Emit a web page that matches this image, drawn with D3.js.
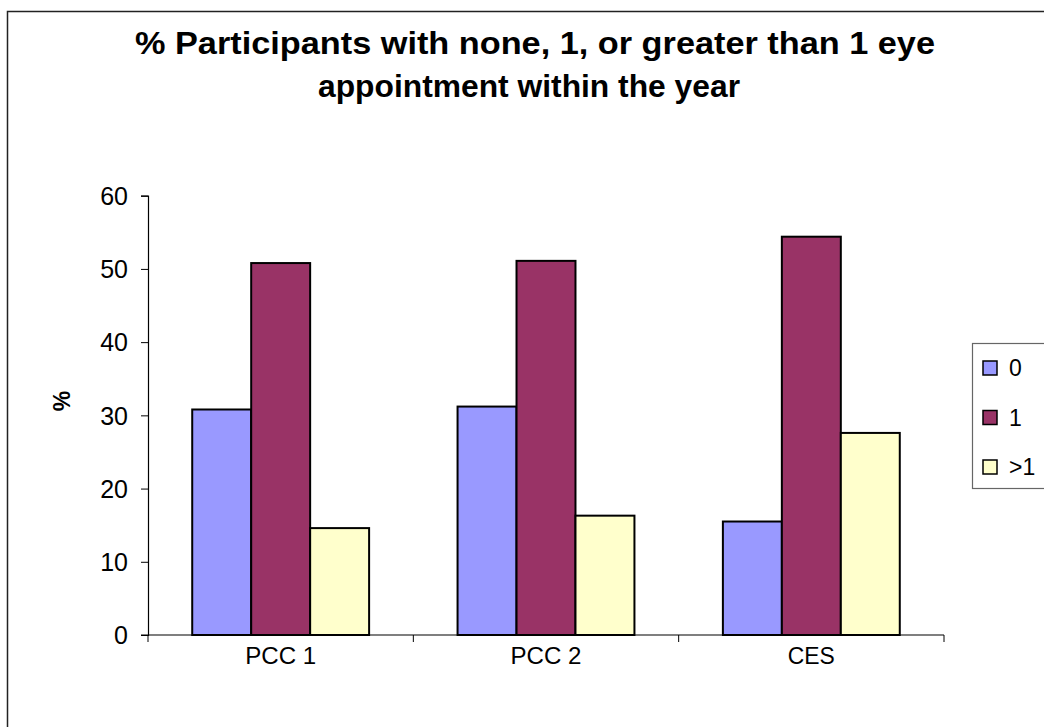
<!DOCTYPE html>
<html>
<head>
    <style>
        body { margin: 0; background: #fff; }
        svg text { font-family: "Liberation Sans", Arial, sans-serif; fill: #000; }
        .title { font-weight: bold; font-size: 32px; text-anchor: middle; }
        .tick text { font-size: 25px; }
    </style>
    <script src="https://d3js.org/d3.v7.min.js"></script>
</head>
<body>
    <svg width="1044" height="727"></svg>
    <script>
        var categories = ["PCC 1", "PCC 2", "CES"];
        var seriesNames = ["0", "1", ">1"];
        var zeroVisits = [30.8, 31.2, 15.5];
        var oneVisit = [50.8, 51.1, 54.4];
        var moreVisits = [14.6, 16.3, 27.6];
        var yTicks = [0, 10, 20, 30, 40, 50, 60];
        var colors = ["#9999ff", "#993366", "#ffffcc"];

        var series = [zeroVisits, oneVisit, moreVisits];

        var svg = d3.select("svg");

        // outer chart border (runs off the right/bottom edge)
        svg.append("rect")
           .attr("x", 7.5).attr("y", 11.5)
           .attr("width", 1100).attr("height", 800)
           .attr("fill", "none").attr("stroke", "#222").attr("stroke-width", 1.5);

        svg.append("text").attr("class", "title")
           .attr("x", 535).attr("y", 54)
           .attr("textLength", 800).attr("lengthAdjust", "spacingAndGlyphs")
           .text("% Participants with none, 1, or greater than 1 eye");
        svg.append("text").attr("class", "title")
           .attr("x", 529).attr("y", 97)
           .attr("textLength", 422).attr("lengthAdjust", "spacingAndGlyphs")
           .text("appointment within the year");

        var plotLeft = 148, plotRight = 944, plotTop = 195.7, plotBottom = 635;

        var x = d3.scaleBand().domain(categories).range([plotLeft, plotRight]).paddingInner(0).paddingOuter(0);
        var x1 = d3.scaleBand().domain(seriesNames).range([0, x.bandwidth() / 1.5]);
        var y = d3.scaleLinear().domain([0, 60]).range([plotBottom, plotTop]);

        var groupOffset = (x.bandwidth() - x1.range()[1]) / 2;

        series.forEach(function(vals, si) {
            svg.append("g").selectAll("rect")
               .data(vals)
               .enter().append("rect")
               .attr("x", function(d, i) { return x(categories[i]) + groupOffset + x1(seriesNames[si]); })
               .attr("y", function(d) { return y(d); })
               .attr("width", x1.bandwidth())
               .attr("height", function(d) { return y(0) - y(d); })
               .attr("fill", colors[si])
               .attr("stroke", "#000")
               .attr("stroke-width", 2);
        });

        // y axis
        var yAxis = svg.append("g")
           .attr("transform", "translate(" + plotLeft + ",0)")
           .call(d3.axisLeft(y).tickValues(yTicks).tickSize(7).tickPadding(13));
        yAxis.selectAll("text").attr("dy", "0.35em");
        yAxis.select(".domain").attr("stroke-width", 1.2);

        // x axis: ticks sit on category boundaries
        var xAxis = svg.append("g").attr("transform", "translate(0," + plotBottom + ")");
        xAxis.append("line").attr("x1", plotLeft - 7).attr("x2", plotRight).attr("stroke", "#000").attr("stroke-width", 1.2);
        xAxis.selectAll(".bt")
           .data(categories.concat(["end"]))
           .enter().append("line")
           .attr("x1", function(d, i) { return plotLeft + i * x.bandwidth(); })
           .attr("x2", function(d, i) { return plotLeft + i * x.bandwidth(); })
           .attr("y1", 0).attr("y2", 7)
           .attr("stroke", "#000");
        xAxis.selectAll(".cl")
           .data(categories)
           .enter().append("text")
           .attr("x", function(d) { return x(d) + x.bandwidth() / 2; })
           .attr("y", 29)
           .attr("text-anchor", "middle")
           .style("font-size", "23px")
           .attr("textLength", function(d) { return d === "CES" ? 47 : 71; })
           .attr("lengthAdjust", "spacingAndGlyphs")
           .text(function(d) { return d; });

        svg.append("text")
           .attr("transform", "translate(70,401) rotate(-90)")
           .attr("text-anchor", "middle")
           .style("font-weight", "bold").style("font-size", "23px")
           .text("%");

        // legend
        var legend = svg.append("g");
        legend.append("rect")
           .attr("x", 972.5).attr("y", 343.5).attr("width", 100).attr("height", 145)
           .attr("fill", "#fff").attr("stroke", "#666").attr("stroke-width", 1.2);
        seriesNames.forEach(function(name, i) {
            var cy = 368 + i * 49.5;
            legend.append("rect")
               .attr("x", 983).attr("y", cy - 7).attr("width", 14).attr("height", 14)
               .attr("fill", colors[i]).attr("stroke", "#000").attr("stroke-width", 1.5);
            legend.append("text")
               .attr("x", 1009).attr("y", cy).attr("dy", "0.35em")
               .style("font-size", "23px")
               .text(name);
        });
    </script>
</body>
</html>
